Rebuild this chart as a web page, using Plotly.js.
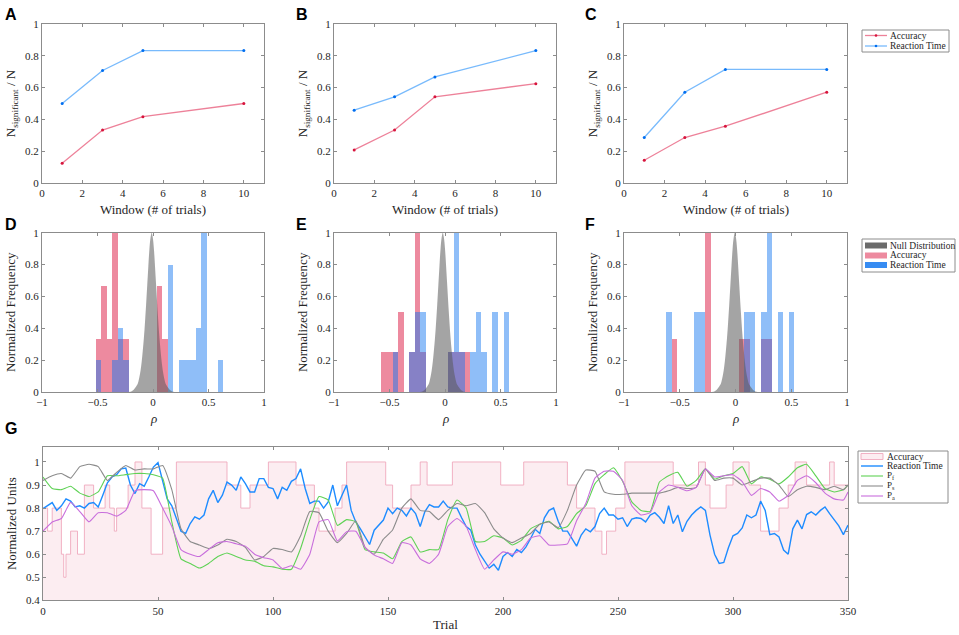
<!DOCTYPE html>
<html>
<head>
<meta charset="utf-8">
<script src="https://cdn.plot.ly/plotly-3.0.1.min.js"></script>
<style>
html,body{margin:0;padding:0;background:#fff;}
#chart{width:959px;height:635px;}
</style>
</head>
<body>
<div id="chart"></div>
<script>
// ---------- Panels A-C: fraction of significant subjects vs window ----------
const windows = [1, 3, 5, 10];
const accA = [0.125, 0.333, 0.417, 0.5];
const rtA  = [0.5, 0.708, 0.833, 0.833];
const accB = [0.208, 0.333, 0.542, 0.625];
const rtB  = [0.458, 0.542, 0.667, 0.833];
const accC = [0.143, 0.286, 0.357, 0.571];
const rtC  = [0.286, 0.571, 0.714, 0.714];

// ---------- Panels D-F: histograms of rho ----------
const accDx = [-0.491, -0.441, -0.391, -0.341, -0.291, -0.241, 0.059, 0.109];
const accDy = [0.333, 0.667, 0.333, 1, 0.333, 0.333, 0.667, 0.333];
const rtDx  = [-0.491, -0.341, -0.291, -0.241, 0.159, 0.259, 0.309, 0.359, 0.409, 0.459, 0.609];
const rtDy  = [0.2, 0.2, 0.4, 0.2, 0.8, 0.2, 0.2, 0.2, 0.4, 1, 0.2];

const accEx = [-0.548, -0.498, -0.448, -0.398, -0.298, -0.248, -0.198, 0.052, 0.102, 0.152, 0.202];
const accEy = [0.25, 0.25, 0.25, 0.5, 0.25, 1, 0.25, 0.25, 0.25, 0.25, 0.25];
const rtEx  = [-0.448, -0.298, -0.248, -0.198, 0.052, 0.102, 0.152, 0.252, 0.302, 0.352, 0.452, 0.552];
const rtEy  = [0.25, 0.25, 0.5, 0.5, 0.25, 1, 0.25, 0.25, 0.5, 0.25, 0.5, 0.5];

const accFx = [-0.547, -0.247, 0.053, 0.103, 0.253, 0.303];
const accFy = [0.333, 1, 0.333, 0.333, 0.333, 0.333];
const rtFx  = [-0.597, -0.347, -0.297, 0.103, 0.153, 0.253, 0.303, 0.403, 0.503];
const rtFy  = [0.5, 0.5, 0.5, 0.5, 0.5, 0.5, 1, 0.5, 0.5];

// null distribution shape (offset from its centre, normalized height)
const nullOffsets = [-0.20,-0.19,-0.18,-0.17,-0.16,-0.15,-0.14,-0.13,-0.12,-0.11,-0.10,-0.09,-0.08,-0.07,-0.06,-0.05,-0.04,-0.03,-0.02,-0.01,0,
  0.01,0.02,0.03,0.04,0.05,0.06,0.07,0.08,0.09,0.10,0.11,0.12,0.13,0.14,0.15,0.16,0.17,0.18,0.19,0.20];
const nullHeights = [0.001,0.002,0.005,0.009,0.016,0.025,0.035,0.045,0.065,0.095,0.135,0.19,0.26,0.34,0.44,0.55,0.67,0.79,0.90,0.97,1.0,
  0.97,0.90,0.79,0.67,0.55,0.44,0.34,0.26,0.19,0.135,0.095,0.065,0.045,0.035,0.025,0.016,0.009,0.005,0.002,0.001];
const nullCentreD = -0.012, nullCentreE = -0.02, nullCentreF = -0.006;

// ---------- Panel G: time courses ----------
const accStepTrial = [0,2,4,8,9,10,12,15,18,22,27,29,31,32,37,40,43,47,52,58,80,86,90,98,110,118,120,127,130,132,149,152,160,164,167,178,199,209,228,232,240,243,245,249,253,274,285,288,290,297,300,307,312,320,324,327,332,342,344,350];
const accStepValue = [0.8,0.7,0.8,0.6,0.5,0.6,0.7,0.6,0.9,0.8,0.9,0.8,0.7,0.8,0.9,1.0,0.8,0.6,0.8,1.0,0.9,0.8,0.9,1.0,0.9,0.8,0.7,0.8,0.9,1.0,0.9,0.8,0.9,1.0,0.9,1.0,0.9,1.0,0.9,0.8,0.7,0.6,0.7,0.8,1.0,0.9,1.0,0.9,0.8,0.9,1.0,0.9,0.7,0.8,0.9,1.0,0.9,1.0,0.9,0.9];

const trialsRT = [0,2,4,6,8,10,12,14,16,18,20,22,24,26,28,30,32,34,36,38,40,42,44,46,48,50,52,54,56,58,60,62,64,66,68,70,72,74,76,78,80,82,84,86,88,90,92,94,96,98,
  100,102,104,106,108,110,112,114,116,118,120,122,124,126,128,130,132,134,136,138,140,142,144,146,148,150,152,154,156,158,160,162,164,166,168,170,172,174,176,178,180,182,184,186,188,190,192,194,196,198,
  200,202,204,206,208,210,212,214,216,218,220,222,224,226,228,230,232,234,236,238,240,242,244,246,248,250,252,254,256,258,260,262,264,266,268,270,272,274,276,278,280,282,284,286,288,290,292,294,296,298,
  300,302,304,306,308,310,312,314,316,318,320,322,324,326,328,330,332,334,336,338,340,342,344,346,348,350];
const reactionTime = [0.798,0.81,0.824,0.79,0.81,0.84,0.83,0.805,0.81,0.80,0.82,0.824,0.805,0.856,0.91,0.935,0.945,0.97,0.974,0.90,0.863,0.906,0.895,0.935,0.978,0.997,0.913,0.84,0.81,0.75,0.70,0.69,0.733,0.762,0.752,0.77,0.84,0.877,0.824,0.856,0.913,0.90,0.877,0.935,0.906,0.87,0.87,0.928,0.928,0.89,
  0.885,0.84,0.89,0.877,0.916,0.928,0.97,0.885,0.82,0.83,0.83,0.80,0.827,0.90,0.81,0.856,0.90,0.79,0.74,0.71,0.675,0.642,0.704,0.726,0.748,0.80,0.776,0.80,0.79,0.766,0.80,0.776,0.72,0.784,0.815,0.805,0.805,0.83,0.805,0.80,0.80,0.758,0.72,0.704,0.64,0.60,0.567,0.54,0.556,0.53,
  0.59,0.607,0.59,0.62,0.607,0.632,0.668,0.708,0.69,0.758,0.79,0.80,0.743,0.70,0.70,0.668,0.635,0.683,0.71,0.697,0.72,0.776,0.80,0.77,0.77,0.752,0.758,0.72,0.752,0.758,0.755,0.74,0.77,0.78,0.76,0.733,0.81,0.733,0.77,0.697,0.743,0.77,0.79,0.805,0.79,0.683,0.60,0.56,0.564,0.628,
  0.68,0.69,0.714,0.77,0.758,0.77,0.83,0.79,0.685,0.69,0.675,0.618,0.60,0.71,0.748,0.71,0.772,0.784,0.77,0.79,0.805,0.776,0.748,0.723,0.685,0.726];

const trialsP = [0,4,8,12,16,20,24,28,32,36,40,44,48,52,56,60,64,68,72,76,80,84,88,92,96,100,104,108,112,116,120,124,128,132,136,140,144,148,152,156,
  160,164,168,172,176,180,184,188,192,196,200,204,208,212,216,220,224,228,232,236,240,244,248,252,256,260,264,268,272,276,280,284,288,292,296,300,304,308,312,316,320,324,328,332,336,340,344,348,350];
const pF = [0.935,0.885,0.88,0.895,0.865,0.85,0.87,0.94,0.94,0.945,0.95,0.95,0.945,0.93,0.74,0.58,0.56,0.54,0.56,0.59,
  0.605,0.59,0.575,0.57,0.55,0.545,0.535,0.535,0.625,0.75,0.85,0.835,0.725,0.75,0.74,0.62,0.61,0.605,0.58,0.655,
  0.675,0.61,0.62,0.62,0.75,0.835,0.80,0.655,0.655,0.68,0.67,0.64,0.66,0.71,0.73,0.743,0.71,0.72,0.776,0.81,
  0.906,0.945,0.975,0.916,0.827,0.79,0.785,0.913,0.94,0.955,0.895,0.92,0.97,0.925,0.94,0.95,0.98,0.905,0.935,0.925,
  0.905,0.935,0.975,0.99,0.94,0.885,0.87,0.88,0.90];
const pS = [0.92,0.94,0.95,0.93,0.98,0.99,0.98,0.92,0.955,0.985,0.965,0.97,0.97,0.985,0.88,0.71,0.655,0.64,0.625,0.64,
  0.665,0.655,0.63,0.575,0.59,0.625,0.62,0.61,0.68,0.785,0.78,0.70,0.65,0.69,0.745,0.63,0.60,0.665,0.705,0.80,
  0.84,0.79,0.785,0.75,0.79,0.82,0.81,0.82,0.78,0.71,0.67,0.65,0.67,0.69,0.73,0.74,0.715,0.79,0.90,0.965,
  0.96,0.87,0.86,0.86,0.865,0.865,0.865,0.865,0.875,0.89,0.885,0.89,0.97,0.92,0.93,0.93,0.90,0.915,0.93,0.93,
  0.90,0.85,0.88,0.895,0.89,0.88,0.895,0.88,0.90];
const pA = [0.70,0.74,0.755,0.825,0.785,0.74,0.78,0.78,0.765,0.79,0.875,0.88,0.875,0.80,0.72,0.62,0.60,0.59,0.62,0.65,
  0.655,0.645,0.635,0.60,0.585,0.575,0.538,0.55,0.535,0.60,0.74,0.75,0.657,0.697,0.70,0.63,0.596,0.58,0.56,0.65,
  0.64,0.58,0.56,0.60,0.72,0.755,0.72,0.62,0.535,0.575,0.61,0.60,0.62,0.67,0.68,0.64,0.64,0.645,0.745,0.82,
  0.93,0.96,0.96,0.92,0.81,0.77,0.78,0.87,0.90,0.89,0.875,0.89,0.97,0.935,0.94,0.945,0.915,0.855,0.885,0.87,
  0.83,0.855,0.92,0.94,0.91,0.865,0.84,0.835,0.87];

// ---------- styling ----------
const W = 959, H = 635;
const SERIF = 'Liberation Serif, DejaVu Serif, serif';
const AX = '#8c8c8c';
const TXT = '#262626';
const RED_LINE = 'rgba(225,45,85,0.6)', RED_MK = 'rgb(215,20,60)';
const BLUE_LINE = 'rgba(30,140,250,0.6)', BLUE_MK = 'rgb(0,110,240)';
const RED_BAR = 'rgba(220,30,70,0.52)', BLUE_BAR = 'rgba(20,120,240,0.48)', GREY_FILL = 'rgba(90,90,90,0.55)';
const ACC_FILL = 'rgba(250,222,230,0.55)', ACC_EDGE = 'rgba(240,170,190,0.9)';
const RT_G = 'rgb(30,140,255)', PF_C = 'rgb(95,210,85)', PS_C = 'rgb(140,140,140)', PA_C = 'rgb(200,110,220)';

function px(x) { return x / W; }
function py(y) { return 1 - y / H; }
function xd(a, b) { return [px(a), px(b)]; }
function yd(top, bot) { return [py(bot), py(top)]; }
function axis(domain, anchor, range, dtick, tick0, title) {
  const a = {
    domain: domain, anchor: anchor, range: range, dtick: dtick, tick0: tick0,
    showline: true, mirror: 'ticks', linecolor: AX, linewidth: 1,
    ticks: 'inside', ticklen: 3, tickcolor: AX, tickwidth: 1,
    showgrid: false, zeroline: false, fixedrange: true,
    tickfont: { family: SERIF, size: 11, color: TXT }
  };
  if (title) a.title = { text: title, font: { family: SERIF, size: 13, color: TXT }, standoff: 6 };
  return a;
}

const traces = [];
function linePair(xa, ya, acc, rt) {
  traces.push({ type: 'scatter', mode: 'lines+markers', x: windows, y: acc, xaxis: xa, yaxis: ya,
    name: 'Accuracy', line: { color: RED_LINE, width: 1.3 }, marker: { color: RED_MK, size: 3 } });
  traces.push({ type: 'scatter', mode: 'lines+markers', x: windows, y: rt, xaxis: xa, yaxis: ya,
    name: 'Reaction Time', line: { color: BLUE_LINE, width: 1.3 }, marker: { color: BLUE_MK, size: 3 } });
}
linePair('x', 'y', accA, rtA);
linePair('x2', 'y2', accB, rtB);
linePair('x3', 'y3', accC, rtC);

function histGroup(xa, ya, centre, ax_, ay_, rx_, ry_) {
  traces.push({ type: 'scatter', mode: 'lines', x: nullOffsets.map(o => centre + o), y: nullHeights,
    xaxis: xa, yaxis: ya, fill: 'tozeroy', fillcolor: GREY_FILL, line: { width: 0, color: GREY_FILL, shape: 'spline' },
    name: 'Null Distribution' });
  traces.push({ type: 'bar', x: ax_, y: ay_, width: 0.05, xaxis: xa, yaxis: ya,
    marker: { color: RED_BAR, line: { width: 0 } }, name: 'Accuracy' });
  traces.push({ type: 'bar', x: rx_, y: ry_, width: 0.05, xaxis: xa, yaxis: ya,
    marker: { color: BLUE_BAR, line: { width: 0 } }, name: 'Reaction Time' });
}
histGroup('x4', 'y4', nullCentreD, accDx, accDy, rtDx, rtDy);
histGroup('x5', 'y5', nullCentreE, accEx, accEy, rtEx, rtEy);
histGroup('x6', 'y6', nullCentreF, accFx, accFy, rtFx, rtFy);

traces.push({ type: 'scatter', mode: 'lines', x: accStepTrial, y: accStepValue, xaxis: 'x7', yaxis: 'y7',
  fill: 'tozeroy', fillcolor: ACC_FILL, line: { color: ACC_EDGE, width: 1, shape: 'hv' }, name: 'Accuracy' });
traces.push({ type: 'scatter', mode: 'lines', x: trialsRT, y: reactionTime, xaxis: 'x7', yaxis: 'y7',
  line: { color: RT_G, width: 1.4 }, name: 'Reaction Time' });
traces.push({ type: 'scatter', mode: 'lines', x: trialsP, y: pF, xaxis: 'x7', yaxis: 'y7',
  line: { color: PF_C, width: 1.1, shape: 'spline', smoothing: 0.4 }, name: 'Pf' });
traces.push({ type: 'scatter', mode: 'lines', x: trialsP, y: pS, xaxis: 'x7', yaxis: 'y7',
  line: { color: PS_C, width: 1.1, shape: 'spline', smoothing: 0.4 }, name: 'Ps' });
traces.push({ type: 'scatter', mode: 'lines', x: trialsP, y: pA, xaxis: 'x7', yaxis: 'y7',
  line: { color: PA_C, width: 1.1, shape: 'spline', smoothing: 0.4 }, name: 'Pa' });
traces.forEach(t => t.showlegend = false);

const NSIG = 'N<sub>significant</sub> / N';
const NF = 'Normalized Frequency';

// ---------- annotations (panel letters, x titles, legend text) ----------
const annotations = [];
function letter(t, x, y) {
  annotations.push({ text: '<b>' + t + '</b>', x: px(x), y: py(y), xref: 'paper', yref: 'paper',
    xanchor: 'left', yanchor: 'top', showarrow: false,
    font: { family: 'Liberation Sans, Arial, sans-serif', size: 16, color: '#000' } });
}
function label(t, x, y, size) {
  annotations.push({ text: t, x: px(x), y: py(y), xref: 'paper', yref: 'paper',
    xanchor: 'center', yanchor: 'middle', showarrow: false, borderpad: 0,
    font: { family: SERIF, size: size, color: TXT } });
}
letter('A', 3, 4); letter('B', 294, 4); letter('C', 583, 4);
letter('D', 3, 214); letter('E', 294, 214); letter('F', 583, 214);
letter('G', 3, 418);
label('Window (# of trials)', 153, 209, 13);
label('Window (# of trials)', 445, 209, 13);
label('Window (# of trials)', 735.5, 209, 13);
label('<i>ρ</i>', 153, 418, 13);
label('<i>ρ</i>', 445, 418, 13);
label('<i>ρ</i>', 735.5, 418, 13);
label('Trial', 445.5, 624, 13);

// ---------- compact MATLAB-style legends ----------
const shapes = [];
function box(x0, y0, x1, y1) {
  shapes.push({ type: 'rect', xref: 'paper', yref: 'paper', x0: px(x0), x1: px(x1), y0: py(y1), y1: py(y0),
    line: { color: AX, width: 1 }, fillcolor: '#ffffff', layer: 'above' });
}
function legText(t, x, y, size) {
  annotations.push({ text: t, x: px(x), y: py(y), xref: 'paper', yref: 'paper',
    xanchor: 'left', yanchor: 'middle', showarrow: false, borderpad: 0,
    font: { family: SERIF, size: size || 9.5, color: TXT } });
}
function legLine(x0, x1, y, color, width) {
  shapes.push({ type: 'line', xref: 'paper', yref: 'paper', x0: px(x0), x1: px(x1), y0: py(y), y1: py(y),
    line: { color: color, width: width }, layer: 'above' });
}
function legDot(x, y, color) {
  shapes.push({ type: 'circle', xref: 'paper', yref: 'paper', x0: px(x - 1.3), x1: px(x + 1.3), y0: py(y + 1.3), y1: py(y - 1.3),
    line: { width: 0 }, fillcolor: color, layer: 'above' });
}
function legPatch(x0, x1, y, h, color, edge) {
  shapes.push({ type: 'rect', xref: 'paper', yref: 'paper', x0: px(x0), x1: px(x1), y0: py(y + h / 2), y1: py(y - h / 2),
    line: { color: edge || color, width: edge ? 1 : 0 }, fillcolor: color, layer: 'above' });
}

// A-C legend
box(862, 30, 949, 52);
legLine(865, 887, 35.5, RED_LINE, 1.3); legDot(876, 35.5, RED_MK); legText('Accuracy', 889, 35.5);
legLine(865, 887, 46, BLUE_LINE, 1.3); legDot(876, 46, BLUE_MK); legText('Reaction Time', 889, 46);

// D-F legend
box(862, 239, 955, 272);
legPatch(865, 887, 245.5, 6, 'rgba(70,70,70,0.8)'); legText('Null Distribution', 889, 245.5);
legPatch(865, 887, 255.5, 6, RED_BAR); legText('Accuracy', 889, 255.5);
legPatch(865, 887, 265, 6, 'rgba(20,120,240,0.85)'); legText('Reaction Time', 889, 265);

// G legend
box(858, 451, 948, 503);
legPatch(861, 883, 456.5, 6, ACC_FILL, ACC_EDGE); legText('Accuracy', 886, 456.5);
legLine(861, 883, 466, RT_G, 1.4); legText('Reaction Time', 886, 466);
legLine(861, 883, 476, PF_C, 1.1); legText('P<sub>f</sub>', 886, 475.5, 9);
legLine(861, 883, 486, PS_C, 1.1); legText('P<sub>s</sub>', 886, 485.5, 9);
legLine(861, 883, 496, PA_C, 1.1); legText('P<sub>a</sub>', 886, 495.5, 9);

const layout = {
  width: W, height: H, margin: { l: 0, r: 0, t: 0, b: 0 },
  paper_bgcolor: '#fff', plot_bgcolor: '#fff', showlegend: false,
  font: { family: SERIF, color: TXT },
  barmode: 'overlay', bargap: 0,
  xaxis:  axis(xd(42, 264),  'y',  [0, 11], 2, 0),
  yaxis:  axis(yd(24, 183),  'x',  [0, 1], 0.2, 0, NSIG),
  xaxis2: axis(xd(334, 556), 'y2', [0, 11], 2, 0),
  yaxis2: axis(yd(24, 183),  'x2', [0, 1], 0.2, 0, NSIG),
  xaxis3: axis(xd(624, 847), 'y3', [0, 11], 2, 0),
  yaxis3: axis(yd(24, 183),  'x3', [0, 1], 0.2, 0, NSIG),
  xaxis4: axis(xd(42, 264),  'y4', [-1, 1], 0.5, -1),
  yaxis4: axis(yd(232.7, 392), 'x4', [0, 1], 0.2, 0, NF),
  xaxis5: axis(xd(334, 556), 'y5', [-1, 1], 0.5, -1),
  yaxis5: axis(yd(232.7, 392), 'x5', [0, 1], 0.2, 0, NF),
  xaxis6: axis(xd(624, 847), 'y6', [-1, 1], 0.5, -1),
  yaxis6: axis(yd(232.7, 392), 'x6', [0, 1], 0.2, 0, NF),
  xaxis7: axis(xd(43, 848),  'y7', [0, 350], 50, 0),
  yaxis7: axis(yd(447, 600.3), 'x7', [0.4, 1.065], 0.1, 0.4, 'Normalized Units'),
  annotations: annotations,
  shapes: shapes
};

Plotly.newPlot('chart', traces, layout, { displayModeBar: false, staticPlot: true });
</script>
</body>
</html>
